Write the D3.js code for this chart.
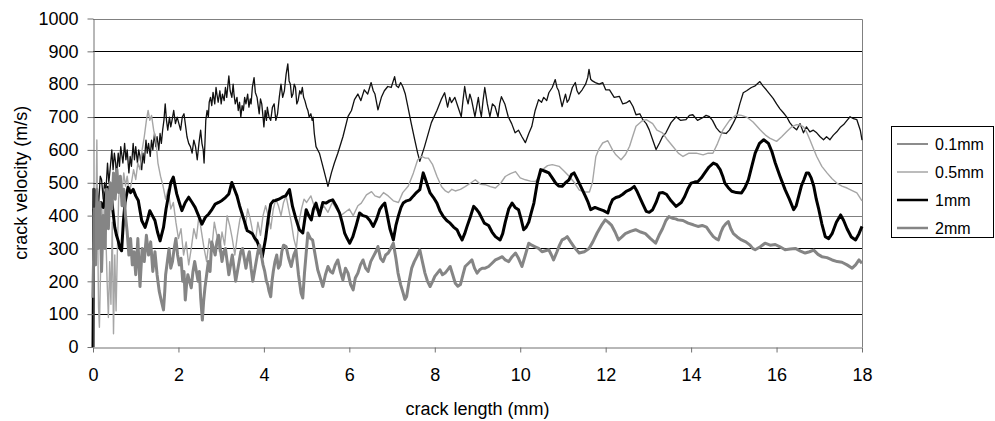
<!DOCTYPE html>
<html>
<head>
<meta charset="utf-8">
<script src="https://cdn.jsdelivr.net/npm/d3@7"></script>
<style>
  body { margin: 0; background: #fff; }
  svg { display: block; font-family: "Liberation Sans", Arial, sans-serif; }
</style>
</head>
<body>
<svg id="chart" width="995" height="421"></svg>
<script>
// crack length (mm) vs crack velocity (m/s)
const seriesNames = ["0.1mm", "0.5mm", "1mm", "2mm"];
const xTicks = [0, 2, 4, 6, 8, 10, 12, 14, 16, 18];
const yTicks = [0, 100, 200, 300, 400, 500, 600, 700, 800, 900, 1000];

const s01 = [[0,420],[0.03,380],[0.06,470],[0.1,480],[0.13,430],[0.17,520],[0.2,510],[0.24,450],[0.27,500],[0.3,470],
  [0.34,560],[0.37,500],[0.4,540],[0.44,600],[0.47,540],[0.5,590],[0.53,560],[0.55,520],[0.59,590],[0.62,550],[0.65,610],
  [0.68,580],[0.7,560],[0.74,620],[0.77,570],[0.8,600],[0.84,530],[0.87,580],[0.9,550],[0.94,620],[0.97,570],[1.0,610],
  [1.04,560],[1.07,600],[1.1,580],[1.14,540],[1.17,590],[1.2,560],[1.24,630],[1.27,590],[1.3,620],[1.34,580],[1.37,630],
  [1.4,600],[1.44,650],[1.47,610],[1.5,640],[1.54,600],[1.57,650],[1.6,620],[1.63,660],[1.66,690],[1.69,740],[1.72,690],
  [1.75,660],[1.79,700],[1.82,670],[1.85,690],[1.89,720],[1.93,680],[1.97,700],[2.01,680],[2.05,660],[2.09,700],[2.13,710],
  [2.17,670],[2.2,640],[2.24,620],[2.28,610],[2.32,590],[2.36,630],[2.4,610],[2.44,570],[2.48,620],[2.52,660],[2.55,620],
  [2.58,600],[2.6,560],[2.62,620],[2.64,690],[2.67,720],[2.7,700],[2.72,745],[2.75,760],[2.78,735],[2.81,775],[2.85,740],
  [2.88,790],[2.9,770],[2.93,745],[2.97,780],[3.0,740],[3.03,770],[3.07,750],[3.1,790],[3.13,760],[3.16,800],[3.18,825],
  [3.21,780],[3.25,760],[3.28,800],[3.3,770],[3.33,740],[3.37,760],[3.4,720],[3.43,745],[3.46,700],[3.49,735],[3.52,720],
  [3.55,760],[3.58,740],[3.62,770],[3.65,730],[3.68,755],[3.7,740],[3.73,790],[3.77,820],[3.8,775],[3.84,760],[3.87,730],
  [3.89,710],[3.92,755],[3.95,740],[3.98,700],[4.0,670],[4.03,720],[4.06,690],[4.08,730],[4.12,700],[4.16,690],[4.2,730],
  [4.24,740],[4.28,690],[4.32,710],[4.36,760],[4.4,800],[4.44,760],[4.48,780],[4.52,830],[4.56,862],[4.59,810],[4.62,800],
  [4.65,760],[4.68,770],[4.71,800],[4.74,790],[4.77,740],[4.8,750],[4.84,780],[4.87,770],[4.9,790],[4.93,760],[4.96,750],
  [5.0,730],[5.03,720],[5.06,700],[5.1,710],[5.13,690],[5.15,700],[5.18,650],[5.22,610],
  [5.3,590],[5.4,540],[5.5,489],[5.58,530],[5.65,560],[5.73,590],[5.85,640],[5.97,702],[6.05,720],[6.12,753],
  [6.2,770],[6.27,750],[6.35,783],[6.43,770],[6.51,805],[6.56,780],[6.6,770],[6.67,722],[6.75,760],[6.82,780],[6.9,793],
  [6.98,790],[7.06,823],[7.1,795],[7.15,790],[7.2,805],[7.25,793],[7.31,770],[7.37,732],[7.45,680],[7.53,631],[7.6,590],
  [7.65,565],[7.76,610],[7.92,683],[8.05,720],[8.15,753],[8.23,774],[8.3,730],[8.35,760],[8.39,744],[8.47,760],[8.54,732],
  [8.62,701],[8.66,750],[8.7,793],[8.74,760],[8.78,740],[8.82,770],[8.86,753],[8.94,701],[9.02,760],[9.06,720],[9.09,701],
  [9.13,750],[9.17,790],[9.23,740],[9.29,701],[9.35,740],[9.41,732],[9.48,700],[9.52,740],[9.56,762],[9.64,740],[9.72,701],
  [9.8,680],[9.88,652],[9.96,660],[10.04,640],[10.12,622],[10.2,650],[10.27,671],[10.35,720],[10.43,753],[10.5,745],
  [10.55,760],[10.62,750],[10.67,774],[10.75,790],[10.82,814],[10.86,790],[10.9,780],[10.98,732],[11.06,770],[11.1,745],
  [11.14,753],[11.22,790],[11.29,805],[11.33,780],[11.37,770],[11.45,783],[11.53,800],[11.58,820],[11.61,845],[11.65,815],
  [11.69,810],[11.76,805],[11.85,800],[11.93,805],[12.0,783],[12.09,783],[12.2,760],[12.32,763],[12.4,740],[12.48,743],
  [12.56,750],[12.64,732],[12.71,707],[12.8,710],[12.87,692],[12.95,680],[13.02,661],[13.1,631],[13.18,601],[13.26,621],
  [13.33,640],[13.41,652],[13.53,683],[13.65,701],[13.75,690],[13.88,692],[13.96,705],[14.04,707],[14.15,690],[14.27,698],
  [14.35,705],[14.43,701],[14.5,690],[14.59,667],[14.67,655],[14.74,652],[14.82,650],[14.9,661],[14.98,680],[15.06,701],
  [15.14,740],[15.22,774],[15.3,780],[15.41,790],[15.5,795],[15.61,808],[15.68,795],[15.76,783],[15.84,770],[15.92,757],
  [16.0,740],[16.08,725],[16.16,713],[16.24,700],[16.31,683],[16.39,670],[16.47,661],[16.55,680],[16.63,652],[16.7,670],
  [16.78,655],[16.86,660],[16.94,652],[17.02,640],[17.1,631],[17.17,640],[17.25,631],[17.33,645],[17.41,655],[17.5,670],
  [17.57,677],[17.65,690],[17.72,701],[17.8,695],[17.88,692],[17.96,660],[18.0,630]];

const s05 = [[0,320],[0.03,480],[0.06,280],[0.09,630],[0.11,350],[0.13,120],[0.15,60],[0.18,250],[0.21,420],[0.24,300],
  [0.27,480],[0.3,350],[0.33,200],[0.36,90],[0.39,260],[0.42,130],[0.45,380],[0.48,40],[0.51,280],[0.54,110],[0.57,290],
  [0.6,450],[0.64,510],[0.68,470],[0.72,530],[0.76,490],[0.8,520],[0.85,470],[0.9,500],[0.95,540],[1.0,510],[1.05,560],
  [1.1,540],[1.15,600],[1.2,640],[1.25,690],[1.29,720],[1.33,690],[1.37,705],[1.42,660],[1.47,630],[1.52,560],[1.58,520],
  [1.64,490],[1.7,450],[1.76,480],[1.82,420],[1.88,440],[1.94,380],[2.0,330],[2.06,360],[2.12,280],[2.18,320],[2.24,250],
  [2.3,300],[2.36,360],[2.42,330],[2.48,400],[2.54,350],[2.6,300],[2.66,260],[2.72,330],[2.78,300],[2.84,380],[2.9,340],
  [2.96,290],[3.02,350],[3.08,310],[3.14,400],[3.2,370],[3.26,330],[3.32,280],[3.38,340],[3.44,390],[3.5,410],[3.56,360],
  [3.62,420],[3.68,390],[3.74,350],[3.8,320],[3.86,380],[3.92,340],[3.98,400],[4.04,430],[4.1,400],[4.16,360],[4.22,420],
  [4.28,450],[4.34,430],[4.4,400],[4.46,440],[4.52,460],[4.58,420],[4.64,380],[4.7,330],[4.76,300],[4.82,380],[4.88,420],
  [4.94,450],[5.0,440],[5.1,460],[5.2,420],[5.3,410],[5.4,430],[5.5,410],[5.6,440],[5.7,420],[5.8,400],[5.9,410],[6.0,420],
  [6.09,400],[6.2,430],[6.28,438],[6.4,463],[6.52,473],[6.6,460],[6.71,455],[6.8,470],[6.91,460],[7.03,445],[7.15,440],
  [7.25,470],[7.38,490],[7.5,530],[7.6,570],[7.69,580],[7.78,575],[7.85,575],[7.95,555],[8.05,520],[8.16,488],[8.25,475],
  [8.32,470],[8.4,480],[8.48,475],[8.6,480],[8.71,488],[8.85,500],[8.95,509],[9.07,495],[9.18,494],[9.3,488],[9.42,484],
  [9.55,500],[9.65,519],[9.77,528],[9.89,534],[10.0,515],[10.12,509],[10.24,505],[10.36,504],[10.45,520],[10.52,540],
  [10.64,552],[10.75,555],[10.91,550],[11.03,535],[11.15,519],[11.27,500],[11.38,478],[11.5,472],[11.62,472],[11.69,500],
  [11.77,580],[11.85,605],[11.93,621],[12.05,628],[12.16,600],[12.24,585],[12.36,570],[12.46,585],[12.56,611],[12.63,640],
  [12.71,672],[12.85,688],[12.95,692],[13.1,680],[13.2,660],[13.33,652],[13.45,630],[13.57,611],[13.7,590],[13.81,580],
  [13.95,590],[14.12,590],[14.28,585],[14.4,590],[14.51,590],[14.62,620],[14.75,662],[14.9,690],[15.06,707],[15.18,705],
  [15.3,700],[15.45,685],[15.61,662],[15.74,645],[15.84,636],[16.0,626],[16.12,640],[16.24,656],[16.35,670],[16.47,677],
  [16.55,676],[16.63,670],[16.7,655],[16.78,631],[16.86,605],[16.94,580],[17.06,550],[17.18,530],[17.3,512],[17.41,499],
  [17.53,490],[17.65,484],[17.77,476],[17.88,469],[18.0,445]];

const s1 = [[0,0],[0.01,200],[0.02,480],[0.04,476],[0.08,420],[0.12,385],[0.18,440],[0.24,425],[0.3,470],[0.35,486],
  [0.43,456],[0.51,364],[0.55,340],[0.59,323],[0.63,300],[0.67,293],[0.71,380],[0.75,440],[0.82,486],[0.88,470],[0.94,480],
  [1.0,460],[1.06,446],[1.14,385],[1.22,364],[1.28,390],[1.33,415],[1.39,400],[1.45,385],[1.51,350],[1.57,323],[1.65,364],
  [1.71,420],[1.76,456],[1.82,500],[1.88,517],[1.96,466],[2.02,440],[2.08,415],[2.16,440],[2.24,456],[2.32,440],[2.39,425],
  [2.47,400],[2.55,374],[2.63,395],[2.71,405],[2.79,420],[2.86,435],[2.94,440],[3.02,446],[3.1,455],[3.18,466],[3.25,501],
  [3.31,480],[3.37,460],[3.43,430],[3.49,405],[3.55,380],[3.61,354],[3.67,350],[3.73,345],[3.79,330],[3.84,323],[3.9,300],
  [3.96,273],[4.04,330],[4.1,390],[4.16,435],[4.22,445],[4.27,446],[4.35,450],[4.43,456],[4.51,460],[4.6,479],[4.67,428],
  [4.75,390],[4.83,357],[4.91,347],[4.99,418],[5.05,400],[5.11,387],[5.16,420],[5.22,438],[5.3,400],[5.38,440],[5.46,438],
  [5.54,445],[5.61,448],[5.69,430],[5.77,408],[5.83,380],[5.89,347],[5.95,330],[6.01,316],[6.08,335],[6.16,370],[6.24,408],
  [6.32,400],[6.4,397],[6.48,385],[6.56,367],[6.64,390],[6.71,418],[6.77,430],[6.83,438],[6.89,400],[6.95,360],[7.03,326],
  [7.09,370],[7.15,400],[7.21,425],[7.26,438],[7.34,445],[7.42,448],[7.5,460],[7.57,470],[7.65,479],[7.73,530],[7.77,515],
  [7.81,499],[7.89,469],[7.97,455],[8.05,438],[8.12,415],[8.2,397],[8.28,385],[8.36,377],[8.44,365],[8.52,357],[8.58,340],
  [8.64,326],[8.7,345],[8.75,365],[8.83,395],[8.91,428],[8.97,420],[9.03,410],[9.11,390],[9.16,377],[9.26,370],[9.34,350],
  [9.42,336],[9.53,326],[9.59,345],[9.65,380],[9.73,420],[9.81,438],[9.88,425],[9.96,418],[10.02,390],[10.08,357],
  [10.14,365],[10.2,380],[10.26,410],[10.32,438],[10.4,500],[10.48,540],[10.58,535],[10.67,530],[10.75,515],[10.83,499],
  [10.9,490],[10.98,489],[11.06,500],[11.14,509],[11.2,525],[11.26,530],[11.32,515],[11.38,499],[11.45,480],[11.53,458],
  [11.59,440],[11.65,418],[11.75,425],[11.85,420],[11.95,415],[12.05,408],[12.1,430],[12.16,448],[12.24,455],[12.32,458],
  [12.4,465],[12.48,474],[12.58,480],[12.67,489],[12.73,475],[12.79,458],[12.87,435],[12.95,413],[13.02,410],[13.1,418],
  [13.18,440],[13.26,469],[13.34,470],[13.42,465],[13.53,445],[13.65,428],[13.77,440],[13.85,458],[13.92,480],[14.0,499],
  [14.08,502],[14.16,504],[14.24,515],[14.32,530],[14.42,548],[14.52,560],[14.6,555],[14.68,540],[14.74,520],[14.79,499],
  [14.87,485],[14.95,474],[15.06,470],[15.18,469],[15.26,485],[15.34,509],[15.42,550],[15.5,590],[15.6,620],[15.7,631],
  [15.81,620],[15.89,595],[15.97,560],[16.08,520],[16.2,479],[16.3,450],[16.4,418],[16.46,430],[16.52,460],[16.58,490],
  [16.64,509],[16.7,530],[16.75,530],[16.81,515],[16.87,490],[16.93,450],[16.99,418],[17.06,375],[17.14,336],[17.22,330],
  [17.3,345],[17.4,380],[17.5,402],[17.57,385],[17.65,360],[17.75,335],[17.85,326],[17.93,345],[18.0,367]];

const s2 = [[0,150],[0.03,420],[0.06,250],[0.09,480],[0.12,300],[0.16,440],[0.2,230],[0.24,400],[0.28,300],[0.32,480],
  [0.36,360],[0.4,500],[0.44,420],[0.48,530],[0.52,450],[0.56,540],[0.6,470],[0.64,520],[0.68,430],[0.72,480],[0.76,400],
  [0.8,350],[0.84,280],[0.88,330],[0.92,250],[0.96,290],[1.0,220],[1.05,330],[1.1,184],[1.15,300],[1.2,260],[1.25,340],
  [1.3,280],[1.35,320],[1.4,230],[1.45,290],[1.5,220],[1.55,170],[1.6,140],[1.65,113],[1.68,170],[1.7,220],[1.74,260],
  [1.78,300],[1.82,240],[1.86,260],[1.9,300],[1.94,330],[1.98,280],[2.02,250],[2.06,270],[2.1,200],[2.13,230],[2.16,143],
  [2.19,190],[2.22,220],[2.26,200],[2.3,180],[2.34,230],[2.38,260],[2.42,230],[2.46,200],[2.49,230],[2.52,150],[2.56,82],
  [2.59,140],[2.62,180],[2.66,220],[2.7,260],[2.74,230],[2.78,320],[2.82,300],[2.86,280],[2.9,320],[2.94,340],[2.98,300],
  [3.02,260],[3.06,290],[3.1,300],[3.14,260],[3.18,220],[3.22,250],[3.26,280],[3.3,240],[3.34,200],[3.38,230],[3.42,260],
  [3.46,290],[3.5,300],[3.54,270],[3.58,240],[3.62,270],[3.66,290],[3.7,240],[3.74,200],[3.78,230],[3.82,260],[3.86,290],
  [3.9,310],[3.94,280],[3.98,250],[4.02,230],[4.06,200],[4.09,190],[4.12,170],[4.16,153],[4.19,200],[4.22,230],[4.26,260],
  [4.3,280],[4.34,240],[4.38,250],[4.42,290],[4.46,310],[4.52,306],[4.58,270],[4.64,245],[4.7,280],[4.75,296],[4.81,220],
  [4.87,164],[4.91,149],[4.95,225],[5.03,347],[5.09,330],[5.14,326],[5.2,280],[5.26,235],[5.32,210],[5.38,184],[5.44,220],
  [5.5,245],[5.56,230],[5.61,225],[5.67,250],[5.73,265],[5.79,230],[5.85,204],[5.91,240],[5.97,225],[6.03,190],[6.09,174],
  [6.14,210],[6.2,225],[6.26,250],[6.32,265],[6.38,240],[6.44,230],[6.5,260],[6.56,275],[6.62,290],[6.67,306],[6.73,270],
  [6.79,260],[6.85,280],[6.91,286],[6.97,300],[7.03,316],[7.09,270],[7.14,225],[7.2,190],[7.26,164],[7.3,145],[7.34,153],
  [7.4,200],[7.46,240],[7.52,260],[7.58,275],[7.65,296],[7.71,260],[7.77,225],[7.83,200],[7.89,184],[7.95,200],[8.0,215],
  [8.06,225],[8.12,235],[8.18,220],[8.24,225],[8.3,235],[8.36,245],[8.42,220],[8.48,194],[8.54,185],[8.6,190],[8.66,220],
  [8.71,245],[8.79,255],[8.87,265],[8.93,240],[8.99,225],[9.05,235],[9.11,240],[9.18,240],[9.26,245],[9.34,255],[9.42,265],
  [9.5,270],[9.58,275],[9.65,265],[9.73,260],[9.81,275],[9.89,286],[9.96,270],[10.04,245],[10.12,280],[10.2,316],
  [10.27,310],[10.35,305],[10.43,300],[10.51,290],[10.59,293],[10.67,296],[10.73,280],[10.78,265],[10.86,290],[10.92,310],
  [10.98,326],[11.04,330],[11.1,336],[11.18,320],[11.26,305],[11.32,295],[11.38,286],[11.5,290],[11.61,300],[11.7,320],
  [11.8,347],[11.9,370],[11.99,387],[12.06,380],[12.14,370],[12.22,350],[12.3,326],[12.38,335],[12.46,345],[12.58,352],
  [12.7,357],[12.82,350],[12.93,345],[13.05,330],[13.17,316],[13.25,340],[13.33,360],[13.41,385],[13.48,397],[13.56,392],
  [13.64,390],[13.69,387],[13.81,385],[13.93,377],[14.05,372],[14.16,367],[14.26,370],[14.36,365],[14.44,350],[14.52,336],
  [14.58,330],[14.64,326],[14.7,350],[14.75,365],[14.81,375],[14.87,382],[14.93,360],[14.99,345],[15.08,335],[15.18,326],
  [15.28,320],[15.38,310],[15.44,300],[15.5,296],[15.62,305],[15.73,316],[15.85,310],[15.97,312],[16.08,305],[16.2,296],
  [16.32,298],[16.44,300],[16.56,292],[16.67,286],[16.77,290],[16.87,295],[16.97,282],[17.06,275],[17.18,272],[17.3,265],
  [17.42,260],[17.53,258],[17.65,250],[17.77,240],[17.85,250],[17.93,265],[18.0,255]];

const seriesData = [s01, s05, s1, s2];
const seriesColor = ["#111111", "#a6a6a6", "#000000", "#858585"];
const seriesWidth = [1.3, 1.4, 3, 3];

const svg = d3.select("#chart");
const plotLeft = 93, plotRight = 862, plotTop = 18.5, plotBottom = 347;

const x = d3.scaleLinear().domain([0, 18]).range([plotLeft, plotRight]);
const y = d3.scaleLinear().domain([0, 1000]).range([plotBottom, plotTop]);

// horizontal gridlines (alternating tones like the original)
svg.append("g")
  .selectAll("line")
  .data(yTicks.filter(d => d > 0 && d < 1000))
  .enter().append("line")
  .attr("x1", plotLeft).attr("x2", plotRight)
  .attr("y1", d => Math.round(y(d)) + 0.5)
  .attr("y2", d => Math.round(y(d)) + 0.5)
  .attr("stroke", d => (d / 100) % 2 === 1 ? "#000" : "#808080")
  .attr("stroke-width", 1);

// plot frame top / right
svg.append("path")
  .attr("d", "M" + plotLeft + "," + (Math.round(y(1000)) + 0.5) + "H" + (Math.round(plotRight) + 0.5) + "V" + plotBottom)
  .attr("fill", "none")
  .attr("stroke", "#808080");

// series
const line = d3.line().x(d => x(d[0])).y(d => y(d[1]));
svg.append("g")
  .selectAll("path")
  .data(seriesData)
  .enter().append("path")
  .attr("d", line)
  .attr("fill", "none")
  .attr("stroke", (d, i) => seriesColor[i])
  .attr("stroke-width", (d, i) => seriesWidth[i])
  .attr("stroke-linejoin", "round");

// axes
const yAxis = svg.append("g")
  .attr("transform", "translate(" + (plotLeft + 0.5) + ",0)")
  .call(d3.axisLeft(y).tickValues(yTicks).tickFormat(d3.format("d"))
    .tickSize(6).tickSizeOuter(0).tickPadding(9));
const xAxis = svg.append("g")
  .attr("transform", "translate(0," + (Math.round(plotBottom) + 0.5) + ")")
  .call(d3.axisBottom(x).tickValues(xTicks).tickFormat(d3.format("d"))
    .tickSize(5).tickSizeOuter(0).tickPadding(16));

[yAxis, xAxis].forEach(a => {
  a.selectAll("path.domain").attr("stroke", "#707070");
  a.selectAll(".tick line").attr("stroke", "#707070");
  a.selectAll("text")
    .attr("fill", "#000")
    .style("font-size", "18px")
    .style("font-family", "'Liberation Sans', Arial, sans-serif");
});

// axis titles
svg.append("text")
  .attr("transform", "translate(27," + ((plotTop + plotBottom) / 2) + ") rotate(-90)")
  .attr("text-anchor", "middle")
  .style("font-size", "18px")
  .text("crack velocity (m/s)");

svg.append("text")
  .attr("x", (plotLeft + plotRight) / 2)
  .attr("y", 415)
  .attr("text-anchor", "middle")
  .style("font-size", "18px")
  .text("crack length (mm)");

// legend
const legend = svg.append("g");
legend.append("rect")
  .attr("x", 891.5).attr("y", 126.5)
  .attr("width", 102).attr("height", 111)
  .attr("fill", "#fff")
  .attr("stroke", "#000");

const item = legend.selectAll("g.item")
  .data(seriesNames)
  .enter().append("g")
  .attr("class", "item")
  .attr("transform", (d, i) => "translate(0," + (144 + i * 28) + ")");

item.append("line")
  .attr("x1", 897).attr("x2", 928)
  .attr("stroke", (d, i) => i === 0 ? "#666" : seriesColor[i])
  .attr("stroke-width", (d, i) => i < 2 ? 1.5 : 2.5);

item.append("text")
  .attr("x", 935)
  .attr("dy", "0.36em")
  .style("font-size", "16px")
  .text(d => d);
</script>
</body>
</html>
